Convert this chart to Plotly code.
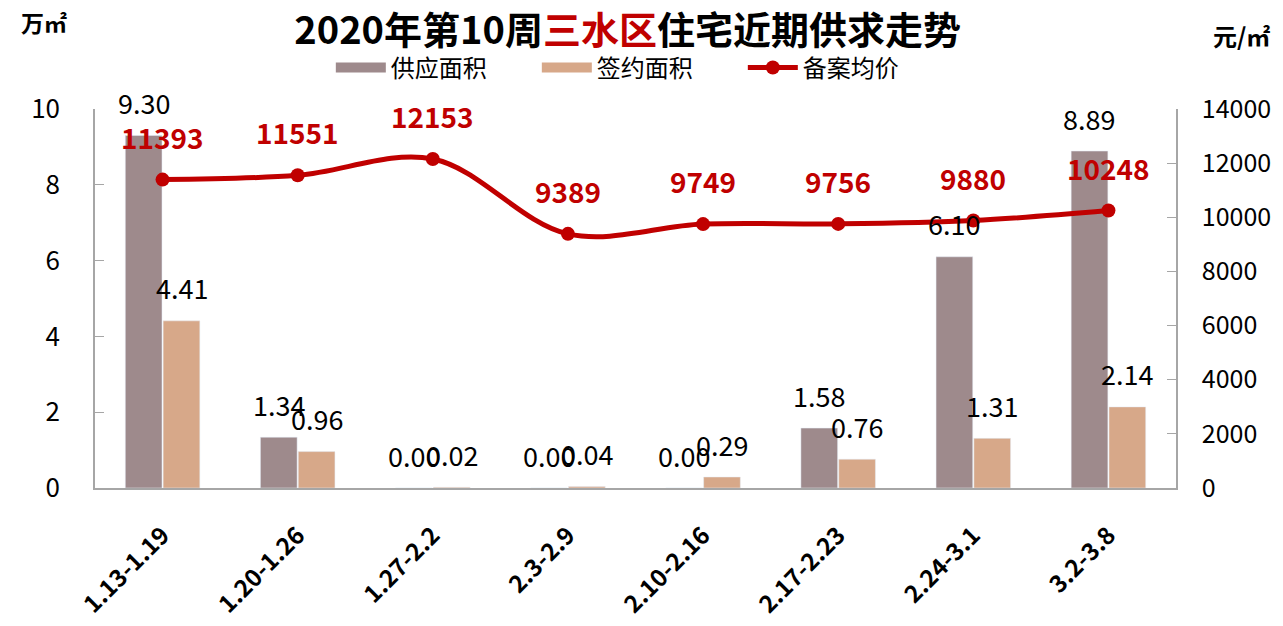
import plotly.graph_objects as go

weeks = ["1.13-1.19", "1.20-1.26", "1.27-2.2", "2.3-2.9", "2.10-2.16", "2.17-2.23", "2.24-3.1", "3.2-3.8"]
supply = [9.30, 1.34, 0.00, 0.00, 0.00, 1.58, 6.10, 8.89]
signed = [4.41, 0.96, 0.02, 0.04, 0.29, 0.76, 1.31, 2.14]
price = [11393, 11551, 12153, 9389, 9749, 9756, 9880, 10248]

FONT = "Noto Sans CJK SC"
RED = "#C00000"
SUPPLY_C = "#9E8A8C"
SIGNED_C = "#D7A889"
AXIS_C = "#A6A6A6"

fig = go.Figure()
fig.add_trace(go.Bar(name="供应面积", x=weeks, y=supply, marker_color=SUPPLY_C,
                     showlegend=False, hoverinfo="skip"))
fig.add_trace(go.Bar(name="签约面积", x=weeks, y=signed, marker_color=SIGNED_C,
                     showlegend=False, hoverinfo="skip"))
# legend-only entries so the bar keys show as wide blocks like the original
for name, c in (("供应面积", SUPPLY_C), ("签约面积", SIGNED_C)):
    fig.add_trace(go.Scatter(name=name, x=[None], y=[None], mode="lines",
                             line=dict(color=c, width=13)))
fig.add_trace(go.Scatter(name="备案均价", x=weeks, y=price, yaxis="y2",
                         mode="lines+markers",
                         line=dict(color=RED, width=5, shape="spline", smoothing=1),
                         marker=dict(color=RED, size=14)))

annotations = []
for i, w in enumerate(weeks):
    for vals, dx in ((supply, -19), (signed, 19)):
        annotations.append(dict(x=w, y=vals[i], xref="x", yref="y", text=f"{vals[i]:.2f}",
                                showarrow=False, xshift=dx, yshift=33,
                                font=dict(size=27, color="#000000", family=FONT)))
    annotations.append(dict(x=w, y=price[i], xref="x", yref="y2", text=f"<b>{price[i]}</b>",
                            showarrow=False, yshift=43,
                            font=dict(size=28, color=RED, family=FONT)))

annotations.append(dict(xref="paper", yref="paper", x=-0.047, y=1.23, text="<b>万㎡</b>",
                        showarrow=False, xanchor="center", yanchor="middle",
                        font=dict(size=23, color="#000", family=FONT)))
annotations.append(dict(xref="paper", yref="paper", x=1.061, y=1.195, text="<b>元/㎡</b>",
                        showarrow=False, xanchor="center", yanchor="middle",
                        font=dict(size=24, color="#000", family=FONT)))

# page body has an 8px margin, so the figure is sized/offset to fill the window
fig.update_layout(
    width=1275, height=618,
    margin=dict(l=87, r=107, t=101, b=138),
    paper_bgcolor="white", plot_bgcolor="white",
    font=dict(family=FONT, color="#000"),
    barmode="group", bargap=0.44, bargroupgap=0.03,
    title=dict(text="<b>2020年第10周<span style='color:#C00000'>三水区</span>住宅近期供求走势</b>",
               x=0.486, xanchor="center", yref="container", y=0.963, yanchor="middle",
               font=dict(size=38, family=FONT, color="#000")),
    legend=dict(orientation="h", x=0.504, xanchor="center", yref="container", y=0.903,
                yanchor="middle", font=dict(size=24, family=FONT), itemwidth=50,
                entrywidth=141, bgcolor="rgba(0,0,0,0)"),
    xaxis=dict(showline=True, linecolor=AXIS_C, linewidth=1.5, ticks="",
               automargin=False, tickangle=-45,
               tickfont=dict(size=24, family=FONT, color="#000"),
               tickprefix="<b>", ticksuffix="</b>", ticklabelstandoff=22),
    yaxis=dict(range=[0, 10], dtick=2, showgrid=False, zeroline=False, automargin=False,
               showline=True, linecolor=AXIS_C, linewidth=1.5,
               ticks="inside", ticklen=9, tickcolor=AXIS_C,
               tickfont=dict(size=26, family=FONT, color="#000"), ticklabelstandoff=28),
    yaxis2=dict(range=[0, 14000], dtick=2000, tickformat="d", overlaying="y", side="right",
                showgrid=False, zeroline=False, automargin=False,
                showline=True, linecolor=AXIS_C, linewidth=1.5,
                ticks="inside", ticklen=9, tickcolor=AXIS_C,
                tickfont=dict(size=25, family=FONT, color="#000"), ticklabelstandoff=19),
    annotations=annotations,
)

fig.write_html("out.html")
